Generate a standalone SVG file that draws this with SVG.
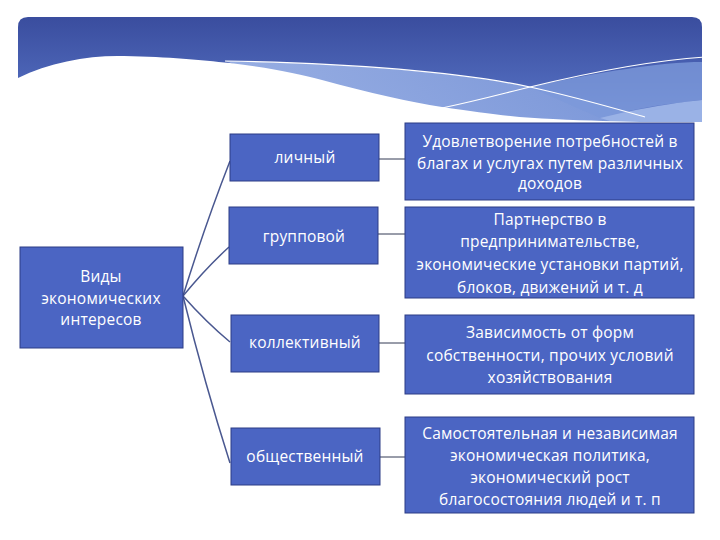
<svg xmlns="http://www.w3.org/2000/svg" width="720" height="540" viewBox="0 0 720 540">
<defs>
<linearGradient id="hdr" x1="0" y1="0" x2="0" y2="1">
<stop offset="0" stop-color="#3a4d9e"/>
<stop offset="0.6" stop-color="#4d66b8"/>
<stop offset="1" stop-color="#6b88d2"/>
</linearGradient>
<linearGradient id="band" x1="0" y1="0" x2="1" y2="0">
<stop offset="0" stop-color="#9fb6e8"/>
<stop offset="1" stop-color="#7f9ada"/>
</linearGradient>
<style>
.box{fill:#4b65c3;stroke:#2c3c85;stroke-width:1}
.rbox{fill:#4b65c3;stroke:#2c3c85;stroke-width:1}
.t{font-family:"Open Sans","Noto Sans",sans-serif;font-size:15.5px;letter-spacing:0.2px;fill:#ffffff;text-anchor:middle}
.c{fill:none;stroke:#4a5890;stroke-width:1.5}
.h{fill:none;stroke:#333a55;stroke-width:1}
</style>
</defs>
<rect width="720" height="540" fill="#ffffff"/>
<g id="header">
<path d="M18,124 L18,27 Q18,17 28,17 L692,17 Q702,17 702,27 L702,124 Z" fill="url(#hdr)"/>
<path d="M225,61 C330,63 450,70 530,87 C580,98 620,110 645,117 L640,123 L400,123 Z" fill="url(#band)" opacity="0.9"/>
<path d="M530,87 C600,72 660,62 702,62 L702,100 C660,104 620,112 600,118 Z" fill="#7c98da" opacity="0.8"/>
<path d="M600,118 C640,108 680,102 702,100 L702,124 L620,124 Z" fill="#9ab2e6"/>
<path d="M18,78 C50,62 90,55 124,56 C170,57 200,60 230,63 C270,68 300,74 322,80 C370,93 410,102 442,107 C490,114 520,118 553,119 C590,121 620,121 640,122 L702,122 L702,130 L18,130 Z" fill="#ffffff"/>
<path d="M225,61 C330,63 450,70 530,87 C580,98 620,110 645,117" fill="none" stroke="#ffffff" stroke-width="1.2"/>
<path d="M442,108 C480,100 505,93 530,87 C600,70 660,60 705,57" fill="none" stroke="#ffffff" stroke-width="1.2"/>
</g>
<g id="connectors">
<path class="c" d="M183,296 Q205,225 230,161"/>
<path class="c" d="M183,296 Q206,268 229,247"/>
<path class="c" d="M183,296 Q206,322 230,342"/>
<path class="c" d="M183,296 Q205,385 230,463"/>
<path class="h" d="M379,159 L405,159"/>
<path class="h" d="M378,234 L405,234"/>
<path class="h" d="M379,343 L405,343"/>
<path class="h" d="M380,457 L405,457"/>
</g>
<g id="root">
<rect class="box" x="20" y="247" width="163" height="101"/>
<text class="t" x="101" y="282">Виды</text>
<text class="t" x="101" y="304">экономических</text>
<text class="t" x="101" y="325">интересов</text>
</g>
<g id="n1">
<rect class="box" x="230" y="134" width="149" height="47"/>
<text class="t" x="305" y="163">личный</text>
</g>
<g id="n2">
<rect class="box" x="229" y="207" width="149" height="57"/>
<text class="t" x="304" y="242">групповой</text>
</g>
<g id="n3">
<rect class="box" x="231" y="315" width="148" height="57"/>
<text class="t" x="305" y="348">коллективный</text>
</g>
<g id="n4">
<rect class="box" x="231" y="428" width="149" height="57"/>
<text class="t" x="305" y="462">общественный</text>
</g>
<g id="d1">
<rect class="rbox" x="405" y="123" width="289" height="77"/>
<text class="t" x="550" y="147">Удовлетворение потребностей в</text>
<text class="t" x="550" y="169">благах и услугах путем различных</text>
<text class="t" x="550" y="189">доходов</text>
</g>
<g id="d2">
<rect class="rbox" x="405" y="207" width="289" height="91"/>
<text class="t" x="550" y="225">Партнерство в</text>
<text class="t" x="550" y="247">предпринимательстве,</text>
<text class="t" x="550" y="270">экономические установки партий,</text>
<text class="t" x="550" y="293">блоков, движений и т. д</text>
</g>
<g id="d3">
<rect class="rbox" x="405" y="315" width="289" height="79"/>
<text class="t" x="550" y="338">Зависимость от форм</text>
<text class="t" x="550" y="361">собственности, прочих условий</text>
<text class="t" x="550" y="383">хозяйствования</text>
</g>
<g id="d4">
<rect class="rbox" x="405" y="417" width="289" height="96"/>
<text class="t" x="550" y="439">Самостоятельная и независимая</text>
<text class="t" x="550" y="461">экономическая политика,</text>
<text class="t" x="550" y="483">экономический рост</text>
<text class="t" x="550" y="505">благосостояния людей и т. п</text>
</g>
</svg>
